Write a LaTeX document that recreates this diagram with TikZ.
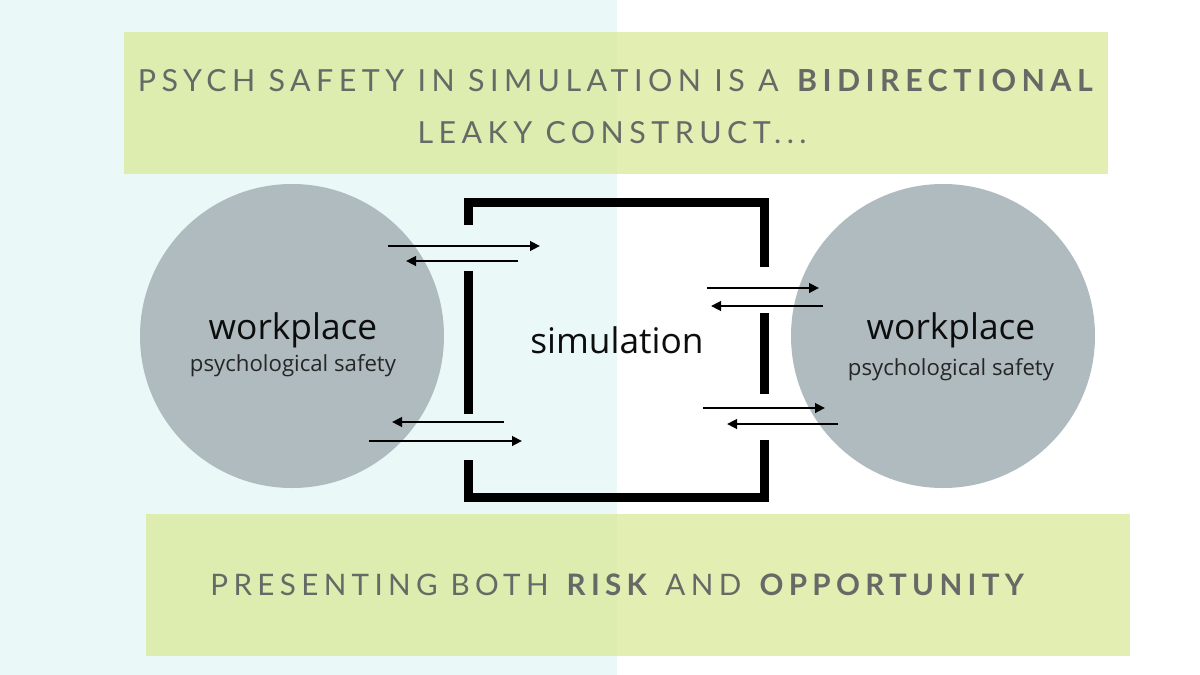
\documentclass[tikz,border=0pt]{standalone}
\usepackage{fontspec}
\setmainfont{Open Sans}
\newfontfamily\titlefont[LetterSpace=18]{Lato}
\usetikzlibrary{arrows.meta}
\definecolor{bgcyan}{HTML}{EAF8F8}
\definecolor{banner}{HTML}{D8E993}
\definecolor{circ}{HTML}{AFBBBF}
\definecolor{titlegray}{HTML}{666A66}
\tikzset{
  bannerbox/.style={fill=banner, fill opacity=0.71, draw=none, minimum width=984pt, minimum height=142pt, inner sep=0pt},
  titletext/.style={text=titlegray, font=\titlefont\fontsize{30.4}{36}\selectfont, inner sep=0pt},
  wpcircle/.style={circle, fill=circ, draw=none, minimum size=304pt, inner sep=0pt},
  bigtext/.style={font=\fontsize{35.3}{42}\selectfont, text=black!95, inner sep=0pt},
  smalltext/.style={font=\fontsize{22.2}{26}\selectfont, text=black!85, inner sep=0pt},
  wall/.style={line width=9pt, line join=miter, line cap=butt},
  flow/.style={line width=2.6pt, -{Triangle[length=10pt,width=9.5pt]}}
}
\begin{document}
\begin{tikzpicture}[x=1pt,y=-1pt]
\useasboundingbox (0,0) rectangle (1200,675);
\fill[bgcyan] (0,0) rectangle (617,675);
\fill[white] (617,0) rectangle (1200,675);
% banners
\node[bannerbox] (topban) at (616,103) {};
\node[bannerbox] (botban) at (638,585) {};
\node[titletext] (t1) at (618,81) {PSYCH SAFETY IN SIMULATION IS A \textbf{BIDIRECTIONAL}};
\node[titletext] (t2) at (612,133) {LEAKY CONSTRUCT...};
\node[titletext, font=\titlefont\fontsize{29.6}{35}\selectfont] (t3) at (620,585) {PRESENTING BOTH \textbf{RISK} AND \textbf{OPPORTUNITY}};
% circles
\node[wpcircle] (cl) at (292,336) {};
\node[wpcircle] (cr) at (943,336) {};
\node[bigtext] (wl) at (293,330) {workplace};
\node[smalltext] (pl) at (293,366) {psychological safety};
\node[bigtext] (wr) at (951,330) {workplace};
\node[smalltext] (pr) at (951,370) {psychological safety};
\node[bigtext] (sim) at (617,340) {simulation};
% box walls
\coordinate (w1a) at (468,225); \coordinate (w1b) at (468,202);
\coordinate (w1c) at (764,202); \coordinate (w1d) at (764,267);
\coordinate (w2a) at (468,271); \coordinate (w2b) at (468,414);
\coordinate (w3a) at (764,313); \coordinate (w3b) at (764,394);
\coordinate (w4a) at (468,460); \coordinate (w4b) at (468,497);
\coordinate (w4c) at (764,497); \coordinate (w4d) at (764,440);
\draw[wall] (w1a) -- (w1b) -- (w1c) -- (w1d);
\draw[wall] (w2a) -- (w2b);
\draw[wall] (w3a) -- (w3b);
\draw[wall] (w4a) -- (w4b) -- (w4c) -- (w4d);
% arrows
\coordinate (a1s) at (388,246); \coordinate (a1e) at (540,246);
\coordinate (a2s) at (518,261); \coordinate (a2e) at (406,261);
\coordinate (a3s) at (504,422); \coordinate (a3e) at (392,422);
\coordinate (a4s) at (369,441); \coordinate (a4e) at (522,441);
\coordinate (a5s) at (707,288); \coordinate (a5e) at (819,288);
\coordinate (a6s) at (823,306); \coordinate (a6e) at (711,306);
\coordinate (a7s) at (703,408); \coordinate (a7e) at (825,408);
\coordinate (a8s) at (838,424); \coordinate (a8e) at (727,424);
\foreach \i in {1,...,8} \draw[flow] (a\i s) -- (a\i e);
\end{tikzpicture}
\end{document}
